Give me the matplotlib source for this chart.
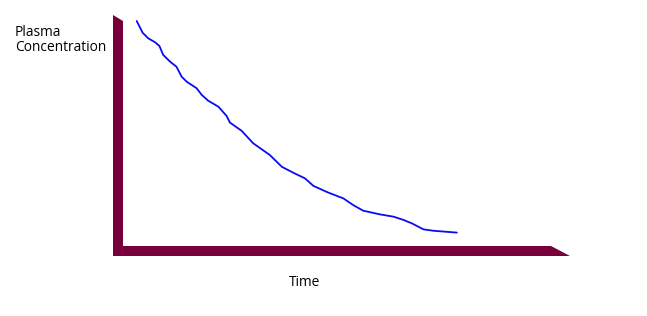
import matplotlib
matplotlib.use("Agg")
import matplotlib.pyplot as plt
from matplotlib.patches import Polygon

# Data (time vs plasma concentration, arbitrary units 0-100)
time = [3.2, 4.6, 5.9, 7.5, 8.5, 9.4, 11.0, 12.5, 13.7, 14.9, 17.2, 18.4, 19.9,
        22.3, 24.2, 25.0, 27.7, 30.4, 34.3, 37.1, 39.8, 42.5, 44.5, 48.0, 51.5,
        53.8, 56.1, 60.0, 63.2, 65.5, 67.5, 70.2, 72.5, 78.0]
conc = [97.4, 92.3, 89.9, 88.2, 86.6, 82.7, 79.8, 77.6, 73.3, 71.1, 68.3, 65.4, 62.9,
        60.3, 56.3, 53.4, 49.9, 44.5, 39.4, 34.3, 31.7, 29.3, 26.0, 23.1, 20.6,
        17.7, 15.3, 13.7, 12.7, 11.3, 9.8, 7.2, 6.6, 5.8]

ylabel_lines = ["Plasma", "Concentration"]
xlabel = "Time"

W, H = 647, 316
fig = plt.figure(figsize=(W / 100, H / 100), dpi=100)

# decoration layer in pixel coordinates
deco = fig.add_axes([0, 0, 1, 1])
deco.set_xlim(0, W)
deco.set_ylim(H, 0)
deco.axis("off")
maroon = "#78003A"
frame = Polygon([(113, 15), (123, 21), (123, 246), (551, 246), (570, 256), (113, 256)],
                closed=True, facecolor=maroon, edgecolor="none")
deco.add_patch(frame)

font = ["Open Sans", "DejaVu Sans"]
fs = 9.9
deco.text(15, 36, ylabel_lines[0], fontsize=fs, family=font, ha="left", va="baseline")
deco.text(15, 51, ylabel_lines[1], fontsize=fs, family=font, ha="left", va="baseline")
deco.text(289, 286, xlabel, fontsize=fs, family=font, ha="left", va="baseline")

# data axes: inner corner at pixel (123, 246)
ax = fig.add_axes([123 / W, (H - 246) / H, 428 / W, 231 / H])
ax.set_xlim(0, 100)
ax.set_ylim(0, 100)
ax.axis("off")
ax.patch.set_alpha(0)
ax.plot(time, conc, color="#0A0AF5", linewidth=1.3, solid_capstyle="round",
        solid_joinstyle="round")

fig.savefig("out.png", dpi=100)
